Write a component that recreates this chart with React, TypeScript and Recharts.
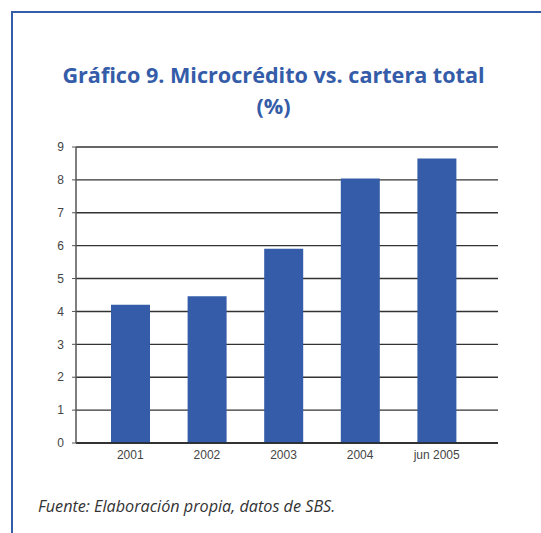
import { BarChart, Bar, XAxis, YAxis, CartesianGrid } from 'recharts';

const years = ['2001', '2002', '2003', '2004', 'jun 2005'];
const shares = [4.2, 4.46, 5.91, 8.04, 8.65];
const yTicks = [0, 1, 2, 3, 4, 5, 6, 7, 8, 9];

const data = years.map((year, i) => ({ year, share: shares[i] }));

const blue = '#345ca8';
const tickStyle = { fill: '#444', fontSize: 12, fontFamily: '"Liberation Sans", Arial, sans-serif' };

export default function App() {
  return (
    <div style={{ position: 'absolute', left: 0, top: 0, width: 541, height: 533, background: '#fff', overflow: 'hidden' }}>
      <div
        style={{
          position: 'absolute',
          left: 11,
          top: 11,
          width: 560,
          height: 560,
          borderTop: `2.5px solid ${blue}`,
          borderLeft: `2.5px solid ${blue}`,
        }}
      />
      <div
        style={{
          position: 'absolute',
          left: 0,
          width: 547,
          top: 59,
          textAlign: 'center',
          color: blue,
          fontFamily: '"Open Sans", sans-serif',
          fontWeight: 700,
          fontSize: 21.6,
          lineHeight: '31px',
        }}
      >
        Gráfico 9. Microcrédito vs. cartera total
        <br />
        (%)
      </div>
      <div style={{ position: 'absolute', left: 0, top: 0 }}>
        <BarChart width={541} height={533} data={data} margin={{ top: 147, right: 43, left: 0, bottom: 60 }}>
          <CartesianGrid vertical={false} stroke="#333" strokeWidth={1.4} />
          <XAxis
            dataKey="year"
            height={30}
            tick={tickStyle}
            tickLine={false}
            tickSize={0}
            tickMargin={7}
            axisLine={{ stroke: '#222', strokeWidth: 1.5 }}
            padding={{ left: 16, right: 23 }}
          />
          <YAxis
            width={76}
            domain={[0, 9]}
            ticks={yTicks}
            interval={0}
            tick={tickStyle}
            tickSize={4}
            tickMargin={8}
            tickLine={{ stroke: '#555' }}
            axisLine={{ stroke: '#555', strokeWidth: 1.5 }}
          />
          <Bar dataKey="share" fill={blue} barSize={39} isAnimationActive={false} />
        </BarChart>
      </div>
      <div
        style={{
          position: 'absolute',
          left: 38,
          top: 495,
          color: '#333',
          fontFamily: '"Open Sans", sans-serif',
          fontStyle: 'italic',
          fontSize: 16.2,
        }}
      >
        Fuente: Elaboración propia, datos de SBS.
      </div>
    </div>
  );
}
